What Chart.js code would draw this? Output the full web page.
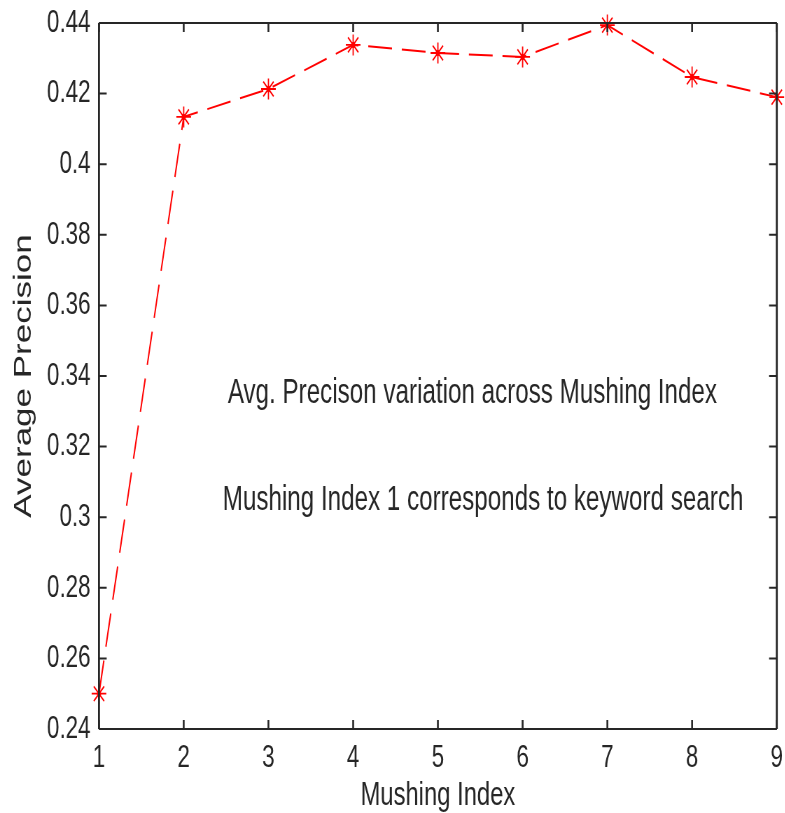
<!DOCTYPE html>
<html>
<head>
<meta charset="utf-8">
<script src="https://cdn.jsdelivr.net/npm/chart.js@4.4.1/dist/chart.umd.min.js"></script>
<style>
  html, body { margin: 0; padding: 0; background: #fff; overflow: hidden; }
  #wrap { width: 1122px; height: 813px; transform: scaleX(0.7); transform-origin: 0 0; }
  canvas { display: block; }
</style>
</head>
<body>
<div id="wrap"><canvas id="c" width="1122" height="813"></canvas></div>
<script>
// ---- data ----
const mushingIndex = [1, 2, 3, 4, 5, 6, 7, 8, 9];
const avgPrecision = [0.250, 0.4134, 0.4213, 0.4338, 0.4315, 0.4304, 0.4394, 0.4247, 0.4190];
const xTicks = [1, 2, 3, 4, 5, 6, 7, 8, 9];
const yTicks = [0.24, 0.26, 0.28, 0.30, 0.32, 0.34, 0.36, 0.38, 0.40, 0.42, 0.44];
const xTitle = 'Mushing Index';
const yTitle = 'Average Precision';
const notes = ['Avg. Precison variation across Mushing Index', 'Mushing Index 1 corresponds to keyword search'];

const FONT = "'Liberation Sans', Arial, Helvetica, sans-serif";
const INK = '#262626';

const framePlugin = {
  id: 'frame',
  afterDraw(chart) {
    const ctx = chart.ctx;
    const a = chart.chartArea;
    const xs = chart.scales.x, ys = chart.scales.y;
    ctx.save();
    ctx.strokeStyle = INK;
    ctx.lineWidth = 2;
    ctx.beginPath();
    ctx.moveTo(a.left, a.top); ctx.lineTo(a.right, a.top);
    ctx.moveTo(a.left, a.bottom); ctx.lineTo(a.right, a.bottom);
    ctx.stroke();
    ctx.lineWidth = 2.8;
    ctx.beginPath();
    ctx.moveTo(a.left, a.top); ctx.lineTo(a.left, a.bottom);
    ctx.moveTo(a.right, a.top); ctx.lineTo(a.right, a.bottom);
    ctx.stroke();
    ctx.lineWidth = 2.6;
    ctx.beginPath();
    xTicks.forEach(v => {
      const px = xs.getPixelForValue(v);
      ctx.moveTo(px, a.bottom); ctx.lineTo(px, a.bottom - 9);
      ctx.moveTo(px, a.top); ctx.lineTo(px, a.top + 9);
    });
    ctx.stroke();
    ctx.lineWidth = 2;
    ctx.beginPath();
    yTicks.forEach(v => {
      const py = ys.getPixelForValue(v);
      ctx.moveTo(a.left, py); ctx.lineTo(a.left + 11, py);
      ctx.moveTo(a.right, py); ctx.lineTo(a.right - 11, py);
    });
    ctx.stroke();
    ctx.fillStyle = INK;
    ctx.font = '34.6px ' + FONT;
    ctx.textAlign = 'left';
    ctx.textBaseline = 'alphabetic';
    ctx.fillText(notes[0], xs.getPixelForValue(2.52), ys.getPixelForValue(0.3324));
    ctx.fillText(notes[1], xs.getPixelForValue(2.46), ys.getPixelForValue(0.3020));
    ctx.restore();
  }
};

const points = mushingIndex.map((x, i) => ({ x: x, y: avgPrecision[i] }));

new Chart(document.getElementById('c'), {
  type: 'line',
  data: {
    datasets: [{
      data: points,
      borderColor: '#ff0000',
      backgroundColor: '#ff0000',
      borderWidth: 2,
      borderDash: [34, 14],
      pointStyle: 'star',
      pointRadius: 10.5,
      pointBorderWidth: 1.8,
      pointBorderColor: '#ff0000',
      tension: 0,
      fill: false,
      clip: false
    }, {
      data: points,
      showLine: false,
      borderColor: '#ff0000',
      backgroundColor: '#ff0000',
      pointStyle: 'circle',
      pointRadius: 3,
      pointBorderWidth: 0,
      clip: false
    }]
  },
  options: {
    responsive: false,
    animation: false,
    devicePixelRatio: 1,
    layout: { padding: { left: 0, right: 9, top: 23, bottom: 0 } },
    plugins: { legend: { display: false }, tooltip: { enabled: false } },
    scales: {
      x: {
        type: 'linear',
        min: 1, max: 9,
        afterBuildTicks(s) { s.ticks = xTicks.map(v => ({ value: v })); },
        afterFit(s) { s.height = 84; s.paddingLeft = 0; s.paddingRight = 0; },
        grid: { display: true, drawOnChartArea: false, drawTicks: false },
        border: { display: false },
        ticks: {
          color: INK, padding: 10, maxRotation: 0, autoSkip: false,
          font: { family: FONT, size: 32 },
          callback: v => String(v)
        },
        title: {
          display: true, text: xTitle, color: INK,
          font: { family: FONT, size: 34, lineHeight: 1 },
          padding: { top: 0, bottom: 0 }
        }
      },
      y: {
        type: 'linear',
        min: 0.24, max: 0.44,
        afterBuildTicks(s) { s.ticks = yTicks.map(v => ({ value: v })); },
        afterFit(s) { s.width = 141.4; s.paddingTop = 0; s.paddingBottom = 0; },
        grid: { display: true, drawOnChartArea: false, drawTicks: false },
        border: { display: false },
        ticks: {
          color: INK, padding: 12, autoSkip: false,
          font: { family: FONT, size: 32 },
          callback: v => String(Number(v.toFixed(2)))
        },
        title: {
          display: true, text: yTitle, color: INK,
          font: { family: FONT, size: 35, lineHeight: 1 },
          padding: { top: 17, bottom: 0 }
        }
      }
    }
  },
  plugins: [framePlugin]
});
</script>
</body>
</html>
